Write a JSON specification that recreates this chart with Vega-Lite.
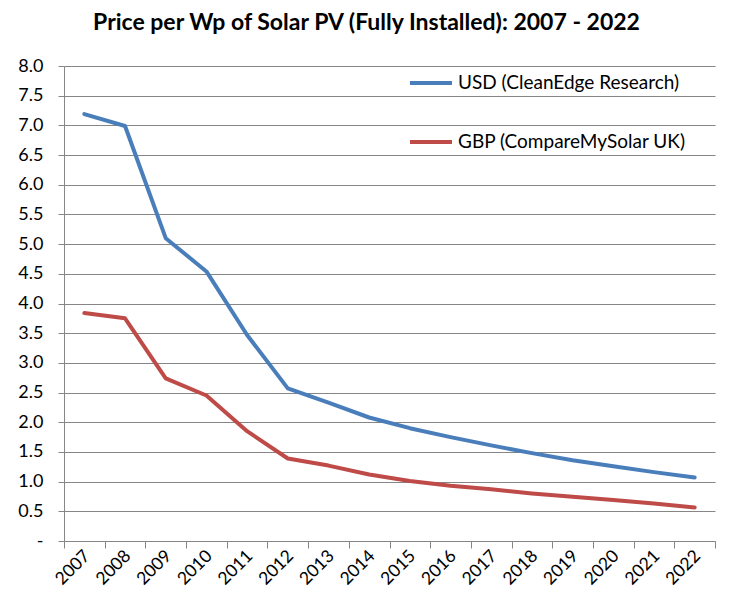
{
  "$schema": "https://vega.github.io/schema/vega-lite/v6.json",
  "autosize": {"type": "none"},
  "padding": {"left": 64, "top": 66, "right": 15, "bottom": 59},
  "width": 651,
  "height": 475,
  "background": "white",
  "title": {
    "text": "Price per Wp of Solar PV (Fully Installed): 2007 - 2022",
    "font": "Lato",
    "fontSize": 23,
    "fontWeight": "bold",
    "color": "#000000",
    "anchor": "middle",
    "dx": -23,
    "offset": 22
  },
  "config": {
    "font": "Lato",
    "view": {"stroke": null}
  },
  "data": {
    "values": [
      {"year": 2007, "series": "USD (CleanEdge Research)", "price": 7.19},
      {"year": 2008, "series": "USD (CleanEdge Research)", "price": 6.99},
      {"year": 2009, "series": "USD (CleanEdge Research)", "price": 5.10},
      {"year": 2010, "series": "USD (CleanEdge Research)", "price": 4.54},
      {"year": 2011, "series": "USD (CleanEdge Research)", "price": 3.47},
      {"year": 2012, "series": "USD (CleanEdge Research)", "price": 2.57},
      {"year": 2013, "series": "USD (CleanEdge Research)", "price": 2.33},
      {"year": 2014, "series": "USD (CleanEdge Research)", "price": 2.08},
      {"year": 2015, "series": "USD (CleanEdge Research)", "price": 1.90},
      {"year": 2016, "series": "USD (CleanEdge Research)", "price": 1.75},
      {"year": 2017, "series": "USD (CleanEdge Research)", "price": 1.61},
      {"year": 2018, "series": "USD (CleanEdge Research)", "price": 1.48},
      {"year": 2019, "series": "USD (CleanEdge Research)", "price": 1.36},
      {"year": 2020, "series": "USD (CleanEdge Research)", "price": 1.26},
      {"year": 2021, "series": "USD (CleanEdge Research)", "price": 1.16},
      {"year": 2022, "series": "USD (CleanEdge Research)", "price": 1.07},
      {"year": 2007, "series": "GBP (CompareMySolar UK)", "price": 3.84},
      {"year": 2008, "series": "GBP (CompareMySolar UK)", "price": 3.75},
      {"year": 2009, "series": "GBP (CompareMySolar UK)", "price": 2.74},
      {"year": 2010, "series": "GBP (CompareMySolar UK)", "price": 2.45},
      {"year": 2011, "series": "GBP (CompareMySolar UK)", "price": 1.85},
      {"year": 2012, "series": "GBP (CompareMySolar UK)", "price": 1.39},
      {"year": 2013, "series": "GBP (CompareMySolar UK)", "price": 1.27},
      {"year": 2014, "series": "GBP (CompareMySolar UK)", "price": 1.12},
      {"year": 2015, "series": "GBP (CompareMySolar UK)", "price": 1.01},
      {"year": 2016, "series": "GBP (CompareMySolar UK)", "price": 0.93},
      {"year": 2017, "series": "GBP (CompareMySolar UK)", "price": 0.87},
      {"year": 2018, "series": "GBP (CompareMySolar UK)", "price": 0.80},
      {"year": 2019, "series": "GBP (CompareMySolar UK)", "price": 0.745},
      {"year": 2020, "series": "GBP (CompareMySolar UK)", "price": 0.69},
      {"year": 2021, "series": "GBP (CompareMySolar UK)", "price": 0.63},
      {"year": 2022, "series": "GBP (CompareMySolar UK)", "price": 0.565}
    ]
  },
  "mark": {"type": "line", "strokeWidth": 4, "strokeCap": "round", "strokeJoin": "round"},
  "encoding": {
    "x": {
      "field": "year",
      "type": "quantitative",
      "scale": {"domain": [2006.5, 2022.5], "nice": false, "zero": false},
      "axis": {
        "title": null,
        "values": [2006.5, 2007.5, 2008.5, 2009.5, 2010.5, 2011.5, 2012.5, 2013.5, 2014.5, 2015.5, 2016.5, 2017.5, 2018.5, 2019.5, 2020.5, 2021.5, 2022.5],
        "labelExpr": "datum.value < 2022 ? format(datum.value + 0.5, 'd') : ''",
        "labelOffset": 23,
        "labelAngle": -45,
        "labelAlign": "right",
        "labelBaseline": "middle",
        "labelPadding": 5,
        "labelFontSize": 17.5,
        "labelColor": "#000000",
        "labelFlush": false,
        "labelOverlap": false,
        "grid": false,
        "domainColor": "#868686",
        "tickColor": "#868686",
        "tickSize": 7
      }
    },
    "y": {
      "field": "price",
      "type": "quantitative",
      "scale": {"domain": [0, 8], "nice": false},
      "axis": {
        "title": null,
        "values": [0, 0.5, 1, 1.5, 2, 2.5, 3, 3.5, 4, 4.5, 5, 5.5, 6, 6.5, 7, 7.5, 8],
        "labelExpr": "datum.value == 0 ? '-' : format(datum.value, '.1f')",
        "labelFontSize": 18,
        "labelColor": "#000000",
        "labelPadding": 15,
        "labelFlush": false,
        "labelOverlap": false,
        "grid": true,
        "gridColor": "#868686",
        "domainColor": "#868686",
        "tickColor": "#868686",
        "tickSize": 6
      }
    },
    "color": {
      "field": "series",
      "type": "nominal",
      "scale": {
        "domain": ["USD (CleanEdge Research)", "GBP (CompareMySolar UK)"],
        "range": ["#4A7EBB", "#BE4B48"]
      },
      "legend": {
        "title": null,
        "orient": "none",
        "legendX": 344,
        "legendY": -6,
        "symbolType": "stroke",
        "symbolSize": 1764,
        "symbolStrokeWidth": 4,
        "labelFontSize": 19,
        "labelLimit": 0,
        "labelColor": "#000000",
        "labelOffset": 4,
        "rowPadding": 26
      }
    }
  }
}
